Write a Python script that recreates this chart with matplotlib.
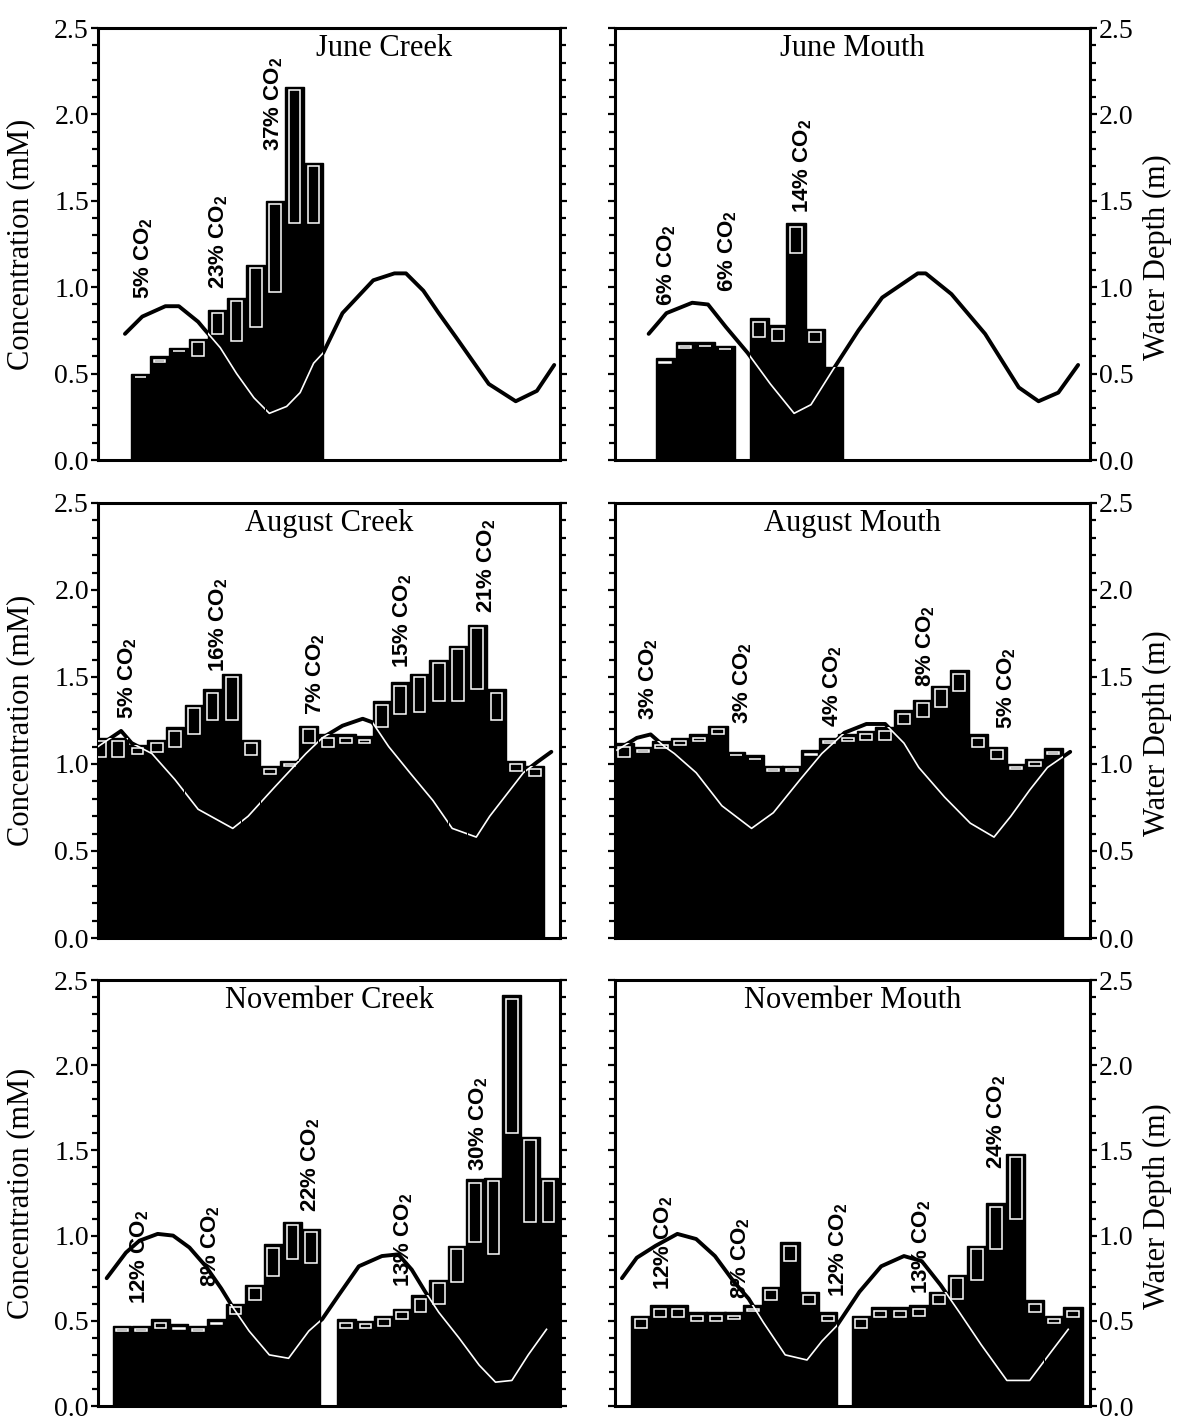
import numpy as np
import matplotlib
matplotlib.use("Agg")
import matplotlib.pyplot as plt
from matplotlib.path import Path
from matplotlib.ticker import MultipleLocator, FormatStrFormatter

plt.rcParams['font.family'] = ['Liberation Serif', 'DejaVu Serif']

# June, creek station
june_creek_t = [2.2, 3.2, 4.2, 5.2, 6.2, 7.2, 8.2, 9.2, 10.2, 11.2]
june_creek_total = [0.50, 0.60, 0.65, 0.70, 0.87, 0.94, 1.13, 1.50, 2.16, 1.72]
june_creek_base = [0.48, 0.57, 0.63, 0.60, 0.73, 0.69, 0.77, 0.97, 1.37, 1.37]
june_creek_depth_t = [1.4, 2.3, 3.5, 4.2, 5.2, 5.5, 6.35, 7.2, 8.1, 8.9, 9.8, 10.5, 11.2,
                      11.7, 12.7, 14.3, 15.4, 16.0, 16.9, 17.7, 18.6, 20.3, 21.7, 22.8, 23.7]
june_creek_depth = [0.73, 0.83, 0.89, 0.89, 0.80, 0.76, 0.65, 0.50, 0.36, 0.27, 0.31, 0.39, 0.56,
                    0.62, 0.85, 1.04, 1.08, 1.08, 0.98, 0.85, 0.71, 0.44, 0.34, 0.40, 0.55]
june_creek_notes = ['5%', '23%', '37%']
june_creek_note_t = [2.35, 6.26, 9.13]
june_creek_note_y = [0.93, 0.99, 1.79]

# June, mouth station
june_mouth_t = [2.55, 3.55, 4.55, 5.55, 7.3, 8.25, 9.15, 10.1, 11.05]
june_mouth_total = [0.59, 0.68, 0.68, 0.66, 0.82, 0.78, 1.37, 0.76, 0.54]
june_mouth_base = [0.56, 0.65, 0.66, 0.64, 0.71, 0.69, 1.20, 0.68, 0.54]
june_mouth_depth_t = [1.7, 2.6, 3.9, 4.7, 5.6, 6.7, 7.85, 9.05, 9.9, 11.0, 12.3, 13.5, 15.3,
                      15.7, 17.0, 18.7, 20.4, 21.4, 22.4, 23.4]
june_mouth_depth = [0.73, 0.85, 0.91, 0.90, 0.77, 0.62, 0.44, 0.27, 0.32, 0.52, 0.75, 0.94, 1.08,
                    1.08, 0.96, 0.73, 0.42, 0.34, 0.39, 0.55]
june_mouth_notes = ['6%', '6%', '14%']
june_mouth_note_t = [2.6, 5.7, 9.5]
june_mouth_note_y = [0.89, 0.97, 1.43]

# August, creek station
aug_creek_t = [0.1, 1.05, 2.05, 3.05, 4.0, 5.0, 5.95, 6.95, 7.95, 8.95, 9.95, 10.95,
               11.95, 12.9, 13.85, 14.75, 15.7, 16.7, 17.7, 18.7, 19.7, 20.7, 21.7, 22.7]
aug_creek_total = [1.15, 1.15, 1.11, 1.14, 1.21, 1.34, 1.43, 1.52, 1.14, 0.99, 1.02, 1.22,
                   1.17, 1.17, 1.16, 1.36, 1.47, 1.52, 1.60, 1.68, 1.80, 1.43, 1.02, 0.99]
aug_creek_base = [1.04, 1.04, 1.06, 1.07, 1.10, 1.17, 1.25, 1.25, 1.05, 0.94, 0.99, 1.12,
                  1.10, 1.12, 1.12, 1.21, 1.29, 1.30, 1.36, 1.36, 1.43, 1.25, 0.96, 0.93]
aug_creek_depth_t = [0.0, 1.2, 1.75, 2.8, 4.0, 5.2, 7.0, 7.8, 9.2, 10.8, 11.65, 12.7,
                     13.75, 14.25, 15.1, 16.2, 17.4, 18.4, 19.65, 20.35, 21.4, 22.1, 22.8, 23.55]
aug_creek_depth = [1.10, 1.19, 1.12, 1.06, 0.91, 0.74, 0.63, 0.70, 0.87, 1.06, 1.15, 1.22,
                   1.26, 1.24, 1.10, 0.95, 0.79, 0.63, 0.58, 0.70, 0.85, 0.95, 1.01, 1.07]
aug_creek_notes = ['5%', '16%', '7%', '15%', '21%']
aug_creek_note_t = [1.56, 6.26, 11.3, 15.83, 20.17]
aug_creek_note_y = [1.26, 1.53, 1.28, 1.55, 1.87]

# August, mouth station
aug_mouth_t = [0.45, 1.4, 2.35, 3.3, 4.25, 5.2, 6.1, 7.05, 8.0, 8.95, 9.9, 10.8,
               11.75, 12.7, 13.65, 14.6, 15.55, 16.45, 17.4, 18.35, 19.3, 20.25, 21.2, 22.15]
aug_mouth_total = [1.12, 1.10, 1.13, 1.15, 1.17, 1.22, 1.07, 1.05, 0.99, 0.99, 1.08, 1.15,
                   1.17, 1.19, 1.21, 1.31, 1.37, 1.45, 1.54, 1.17, 1.10, 1.00, 1.03, 1.09]
aug_mouth_base = [1.04, 1.07, 1.09, 1.11, 1.13, 1.17, 1.05, 1.03, 0.96, 0.96, 1.05, 1.12,
                  1.13, 1.14, 1.14, 1.23, 1.27, 1.33, 1.42, 1.10, 1.03, 0.97, 0.99, 1.06]
aug_mouth_depth_t = [0.1, 1.1, 1.8, 2.5, 3.0, 4.1, 5.4, 6.9, 8.0, 9.35, 10.45, 11.6,
                     12.7, 13.65, 14.6, 15.35, 16.65, 17.95, 19.15, 20.0, 20.95, 21.85, 23.0]
aug_mouth_depth = [1.08, 1.15, 1.17, 1.10, 1.06, 0.95, 0.76, 0.63, 0.72, 0.91, 1.06, 1.18,
                   1.23, 1.23, 1.12, 0.98, 0.81, 0.66, 0.58, 0.70, 0.85, 0.98, 1.07]
aug_mouth_notes = ['3%', '3%', '4%', '8%', '5%']
aug_mouth_note_t = [1.7, 6.45, 11.0, 15.7, 19.8]
aug_mouth_note_y = [1.25, 1.23, 1.21, 1.44, 1.20]

# November, creek station
nov_creek_t = [1.25, 2.25, 3.25, 4.2, 5.2, 6.15, 7.15, 8.15, 9.1, 10.1, 11.05,
               12.9, 13.9, 14.85, 15.8, 16.75, 17.7, 18.65, 19.6, 20.55, 21.5, 22.45, 23.4]
nov_creek_total = [0.47, 0.47, 0.51, 0.48, 0.47, 0.51, 0.60, 0.71, 0.95, 1.08, 1.04,
                   0.51, 0.50, 0.53, 0.57, 0.65, 0.74, 0.94, 1.33, 1.34, 2.41, 1.58, 1.34]
nov_creek_base = [0.44, 0.44, 0.46, 0.45, 0.44, 0.48, 0.54, 0.62, 0.76, 0.86, 0.84,
                  0.46, 0.46, 0.47, 0.51, 0.55, 0.60, 0.73, 0.96, 0.89, 1.60, 1.08, 1.08]
nov_creek_depth_t = [0.45, 1.45, 2.15, 3.1, 3.9, 4.75, 5.6, 6.4, 7.0, 7.85, 8.9, 9.9, 10.95,
                     11.65, 12.5, 13.55, 14.75, 15.6, 16.3, 17.0, 17.7, 18.75, 19.8, 20.65,
                     21.5, 22.35, 23.3]
nov_creek_depth = [0.75, 0.90, 0.97, 1.01, 1.00, 0.93, 0.82, 0.69, 0.58, 0.44, 0.30, 0.28, 0.44,
                   0.51, 0.65, 0.82, 0.88, 0.89, 0.80, 0.67, 0.55, 0.40, 0.24, 0.14,
                   0.15, 0.30, 0.45]
nov_creek_notes = ['12%', '8%', '22%', '13%', '30%']
nov_creek_note_t = [2.15, 5.85, 11.05, 15.9, 19.8]
nov_creek_note_y = [0.60, 0.70, 1.14, 0.70, 1.38]

# November, mouth station
nov_mouth_t = [1.3, 2.25, 3.2, 4.15, 5.1, 6.0, 6.95, 7.9, 8.85, 9.8, 10.75,
               12.45, 13.4, 14.4, 15.35, 16.35, 17.3, 18.3, 19.25, 20.25, 21.2, 22.2, 23.15]
nov_mouth_total = [0.53, 0.59, 0.59, 0.55, 0.55, 0.55, 0.59, 0.70, 0.96, 0.67, 0.55,
                   0.53, 0.58, 0.58, 0.59, 0.67, 0.77, 0.94, 1.19, 1.48, 0.62, 0.53, 0.58]
nov_mouth_base = [0.46, 0.52, 0.52, 0.50, 0.50, 0.51, 0.56, 0.62, 0.85, 0.60, 0.50,
                  0.46, 0.52, 0.52, 0.53, 0.60, 0.63, 0.74, 0.92, 1.10, 0.55, 0.49, 0.52]
nov_mouth_depth_t = [0.35, 1.1, 2.05, 3.15, 4.1, 5.05, 6.0, 6.75, 7.5, 8.6, 9.7, 10.45,
                     11.2, 12.35, 13.45, 14.6, 15.5, 16.45, 17.4, 18.5, 19.8, 20.95, 22.05, 22.9]
nov_mouth_depth = [0.75, 0.87, 0.94, 1.01, 0.98, 0.88, 0.73, 0.63, 0.49, 0.30, 0.27, 0.38,
                   0.47, 0.67, 0.82, 0.88, 0.85, 0.71, 0.55, 0.36, 0.15, 0.15, 0.32, 0.45]
nov_mouth_notes = ['12%', '8%', '12%', '13%', '24%']
nov_mouth_note_t = [2.45, 6.35, 11.3, 15.5, 19.3]
nov_mouth_note_y = [0.68, 0.63, 0.64, 0.66, 1.39]

BAR_W = 0.98
INSET = 0.02


def draw_panel(ax, title, t, total, base, depth_t, depth, notes, note_t, note_y,
               side, title_x=0.5):
    t = np.asarray(t)
    total = np.asarray(total)
    base = np.asarray(base)

    # tide curve: heavy black outside the bars, thin white where it runs behind them
    ax.plot(depth_t, depth, color='black', lw=2.8, zorder=2, solid_capstyle='round')
    bars = ax.bar(t, total, width=BAR_W, color='black', edgecolor='black',
                  linewidth=1.0, zorder=3)
    co2 = total - base
    keep = co2 > INSET
    ax.bar(t[keep], co2[keep] - INSET, bottom=base[keep], width=BAR_W * 0.62,
           facecolor='none', edgecolor='white', linewidth=1.1, zorder=4)
    inner, = ax.plot(depth_t, depth, color='white', lw=1.2, zorder=5)
    clip = Path.make_compound_path(
        *[b.get_patch_transform().transform_path(b.get_path()) for b in bars])
    inner.set_clip_path(clip, ax.transData)

    for n, x, y in zip(notes, note_t, note_y):
        ax.text(x, y, f"{n} CO$_\\mathregular{{2}}$", rotation=90, rotation_mode='anchor',
                ha='left', va='center', fontsize=16, fontweight='bold',
                family=['Liberation Sans', 'DejaVu Sans'], zorder=1)

    ax.text(title_x, 0.953, title, transform=ax.transAxes, ha='center', va='center',
            fontsize=22)

    ax.set_xlim(0, 24)
    ax.set_ylim(0, 2.5)
    ax.set_xticks([])
    ax.yaxis.set_major_locator(MultipleLocator(0.5))
    ax.yaxis.set_minor_locator(MultipleLocator(0.1))
    ax.yaxis.set_major_formatter(FormatStrFormatter('%.1f'))
    ax.tick_params(axis='y', which='both', direction='out', left=True, right=True,
                   width=1.6, labelsize=20, pad=1.5)
    ax.tick_params(axis='y', which='major', length=5)
    ax.tick_params(axis='y', which='minor', length=4)
    for s in ax.spines.values():
        s.set_linewidth(2.2)

    if side == 'left':
        ax.tick_params(axis='y', labelleft=True, labelright=False)
        ax.set_ylabel('Concentration (mM)', fontsize=22)
        ax.yaxis.set_label_coords(-0.135, 0.5)
    else:
        ax.tick_params(axis='y', labelleft=False, labelright=True)
        ax.yaxis.set_label_position('right')
        ax.set_ylabel('Water Depth (m)', fontsize=22)
        ax.yaxis.set_label_coords(1.112, 0.47)


W, H = 1177, 1424
fig = plt.figure(figsize=(W / 100, H / 100), dpi=100)

left_x, left_w = 98 / W, 462 / W
right_x, right_w = 615 / W, 475 / W
# (top, bottom) of each row in pixels
rows = [(28, 460), (503, 938), (980, 1406)]

panels = [
    ('June Creek', june_creek_t, june_creek_total, june_creek_base, june_creek_depth_t,
     june_creek_depth, june_creek_notes, june_creek_note_t, june_creek_note_y, 0, 'left', 0.62),
    ('June Mouth', june_mouth_t, june_mouth_total, june_mouth_base, june_mouth_depth_t,
     june_mouth_depth, june_mouth_notes, june_mouth_note_t, june_mouth_note_y, 0, 'right', 0.5),
    ('August Creek', aug_creek_t, aug_creek_total, aug_creek_base, aug_creek_depth_t,
     aug_creek_depth, aug_creek_notes, aug_creek_note_t, aug_creek_note_y, 1, 'left', 0.5),
    ('August Mouth', aug_mouth_t, aug_mouth_total, aug_mouth_base, aug_mouth_depth_t,
     aug_mouth_depth, aug_mouth_notes, aug_mouth_note_t, aug_mouth_note_y, 1, 'right', 0.5),
    ('November Creek', nov_creek_t, nov_creek_total, nov_creek_base, nov_creek_depth_t,
     nov_creek_depth, nov_creek_notes, nov_creek_note_t, nov_creek_note_y, 2, 'left', 0.5),
    ('November Mouth', nov_mouth_t, nov_mouth_total, nov_mouth_base, nov_mouth_depth_t,
     nov_mouth_depth, nov_mouth_notes, nov_mouth_note_t, nov_mouth_note_y, 2, 'right', 0.5),
]

for (title, t, tot, bas, dt, dep, notes, nt, ny, row, side, tx) in panels:
    x0, w = (left_x, left_w) if side == 'left' else (right_x, right_w)
    top, bottom = rows[row]
    ax = fig.add_axes([x0, 1 - bottom / H, w, (bottom - top) / H])
    draw_panel(ax, title, t, tot, bas, dt, dep, notes, nt, ny, side, tx)

fig.savefig('out.png', dpi=100)
